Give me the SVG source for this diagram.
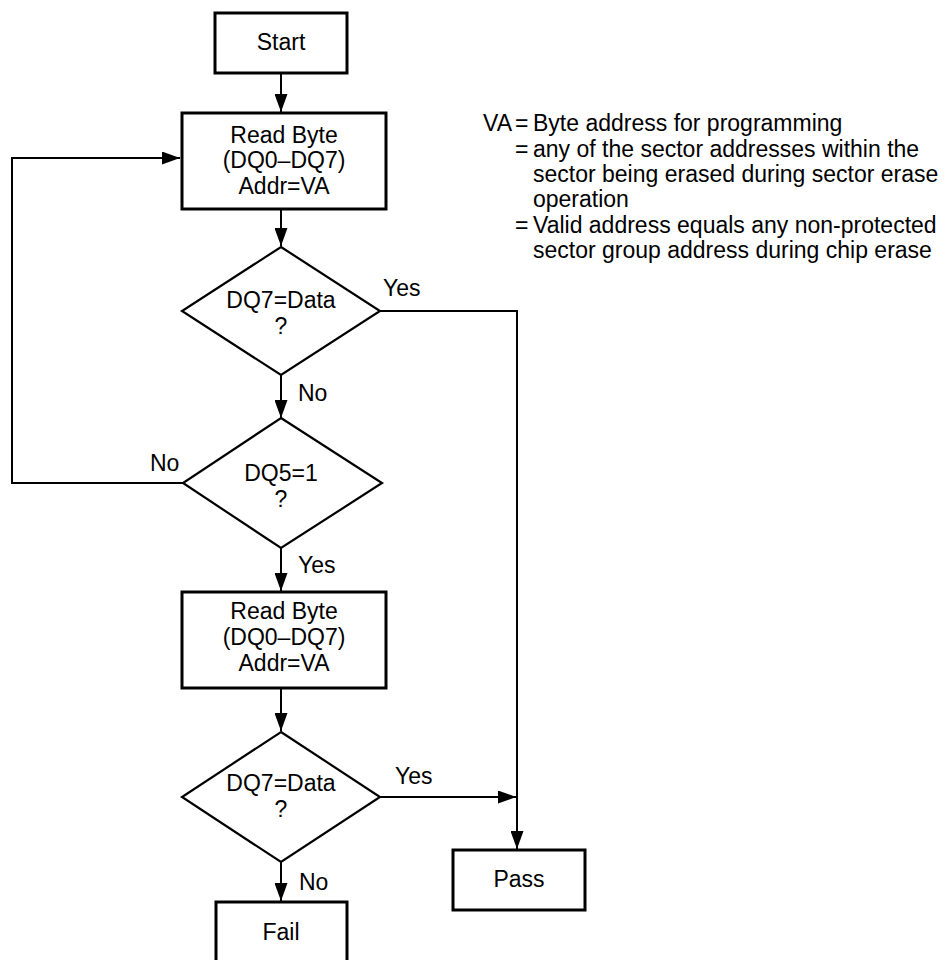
<svg xmlns="http://www.w3.org/2000/svg" width="946" height="960" viewBox="0 0 946 960">
<defs>
<style>
.box{fill:#fff;stroke:#000;stroke-width:3}
.dia{fill:#fff;stroke:#000;stroke-width:2.2}
.ln{fill:none;stroke:#000;stroke-width:2}
text{font-family:"Liberation Sans",Arial,sans-serif;font-size:23px;fill:#000}
.c{text-anchor:middle}
</style>
<marker id="ah" markerWidth="18" markerHeight="13" refX="18" refY="6.5" orient="auto" markerUnits="userSpaceOnUse">
<path d="M0,0 L18,6.5 L0,13 z" fill="#000"/>
</marker>
</defs>
<rect width="946" height="960" fill="#fff"/>
<g id="connectors">
<line class="ln" x1="281" y1="73" x2="281" y2="112" marker-end="url(#ah)"/>
<line class="ln" x1="281" y1="209" x2="281" y2="246" marker-end="url(#ah)"/>
<polyline class="ln" points="380,311 517,311 517,849" marker-end="url(#ah)"/>
<line class="ln" x1="281" y1="375" x2="281" y2="418" marker-end="url(#ah)"/>
<polyline class="ln" points="183,483 12,483 12,158 180,158" marker-end="url(#ah)"/>
<line class="ln" x1="281" y1="548" x2="281" y2="591" marker-end="url(#ah)"/>
<line class="ln" x1="281" y1="688" x2="281" y2="731" marker-end="url(#ah)"/>
<line class="ln" x1="380" y1="797" x2="516" y2="797" marker-end="url(#ah)"/>
<line class="ln" x1="281" y1="862" x2="281" y2="901" marker-end="url(#ah)"/>
<text x="383" y="296">Yes</text>
<text x="298" y="401">No</text>
<text x="150" y="471">No</text>
<text x="298" y="573">Yes</text>
<text x="395" y="784">Yes</text>
<text x="299" y="890">No</text>
</g>
<g id="start">
<rect class="box" x="215" y="13" width="132" height="60"/>
<text class="c" x="281" y="50">Start</text>
</g>
<g id="read1">
<rect class="box" x="182" y="113" width="204" height="96"/>
<text class="c" x="284" y="143">Read Byte</text>
<text class="c" x="284" y="168">(DQ0–DQ7)</text>
<text class="c" x="284" y="194">Addr=VA</text>
</g>
<g id="dq7a">
<polygon class="dia" points="281,247 380,311 281,375 182,311"/>
<text class="c" x="281" y="308">DQ7=Data</text>
<text class="c" x="281" y="334">?</text>
</g>
<g id="dq5">
<polygon class="dia" points="281,418 382,483 281,548 183,483"/>
<text class="c" x="281" y="481">DQ5=1</text>
<text class="c" x="281" y="507">?</text>
</g>
<g id="read2">
<rect class="box" x="182" y="592" width="204" height="96"/>
<text class="c" x="284" y="619">Read Byte</text>
<text class="c" x="284" y="645">(DQ0–DQ7)</text>
<text class="c" x="284" y="671">Addr=VA</text>
</g>
<g id="dq7b">
<polygon class="dia" points="281,732 380,797 281,862 182,797"/>
<text class="c" x="281" y="791">DQ7=Data</text>
<text class="c" x="281" y="817">?</text>
</g>
<g id="pass">
<rect class="box" x="453" y="850" width="132" height="60"/>
<text class="c" x="519" y="887">Pass</text>
</g>
<g id="fail">
<rect class="box" x="216" y="902" width="131" height="60"/>
<text class="c" x="281" y="940">Fail</text>
</g>
<g id="legend">
<text x="483" y="131">VA</text>
<text x="515" y="131">=</text>
<text x="533" y="131">Byte address for programming</text>
<text x="515" y="157">=</text>
<text x="533" y="157">any of the sector addresses within the</text>
<text x="533" y="182">sector being erased during sector erase</text>
<text x="533" y="207">operation</text>
<text x="515" y="233">=</text>
<text x="533" y="233">Valid address equals any non-protected</text>
<text x="533" y="258">sector group address during chip erase</text>
</g>
</svg>
